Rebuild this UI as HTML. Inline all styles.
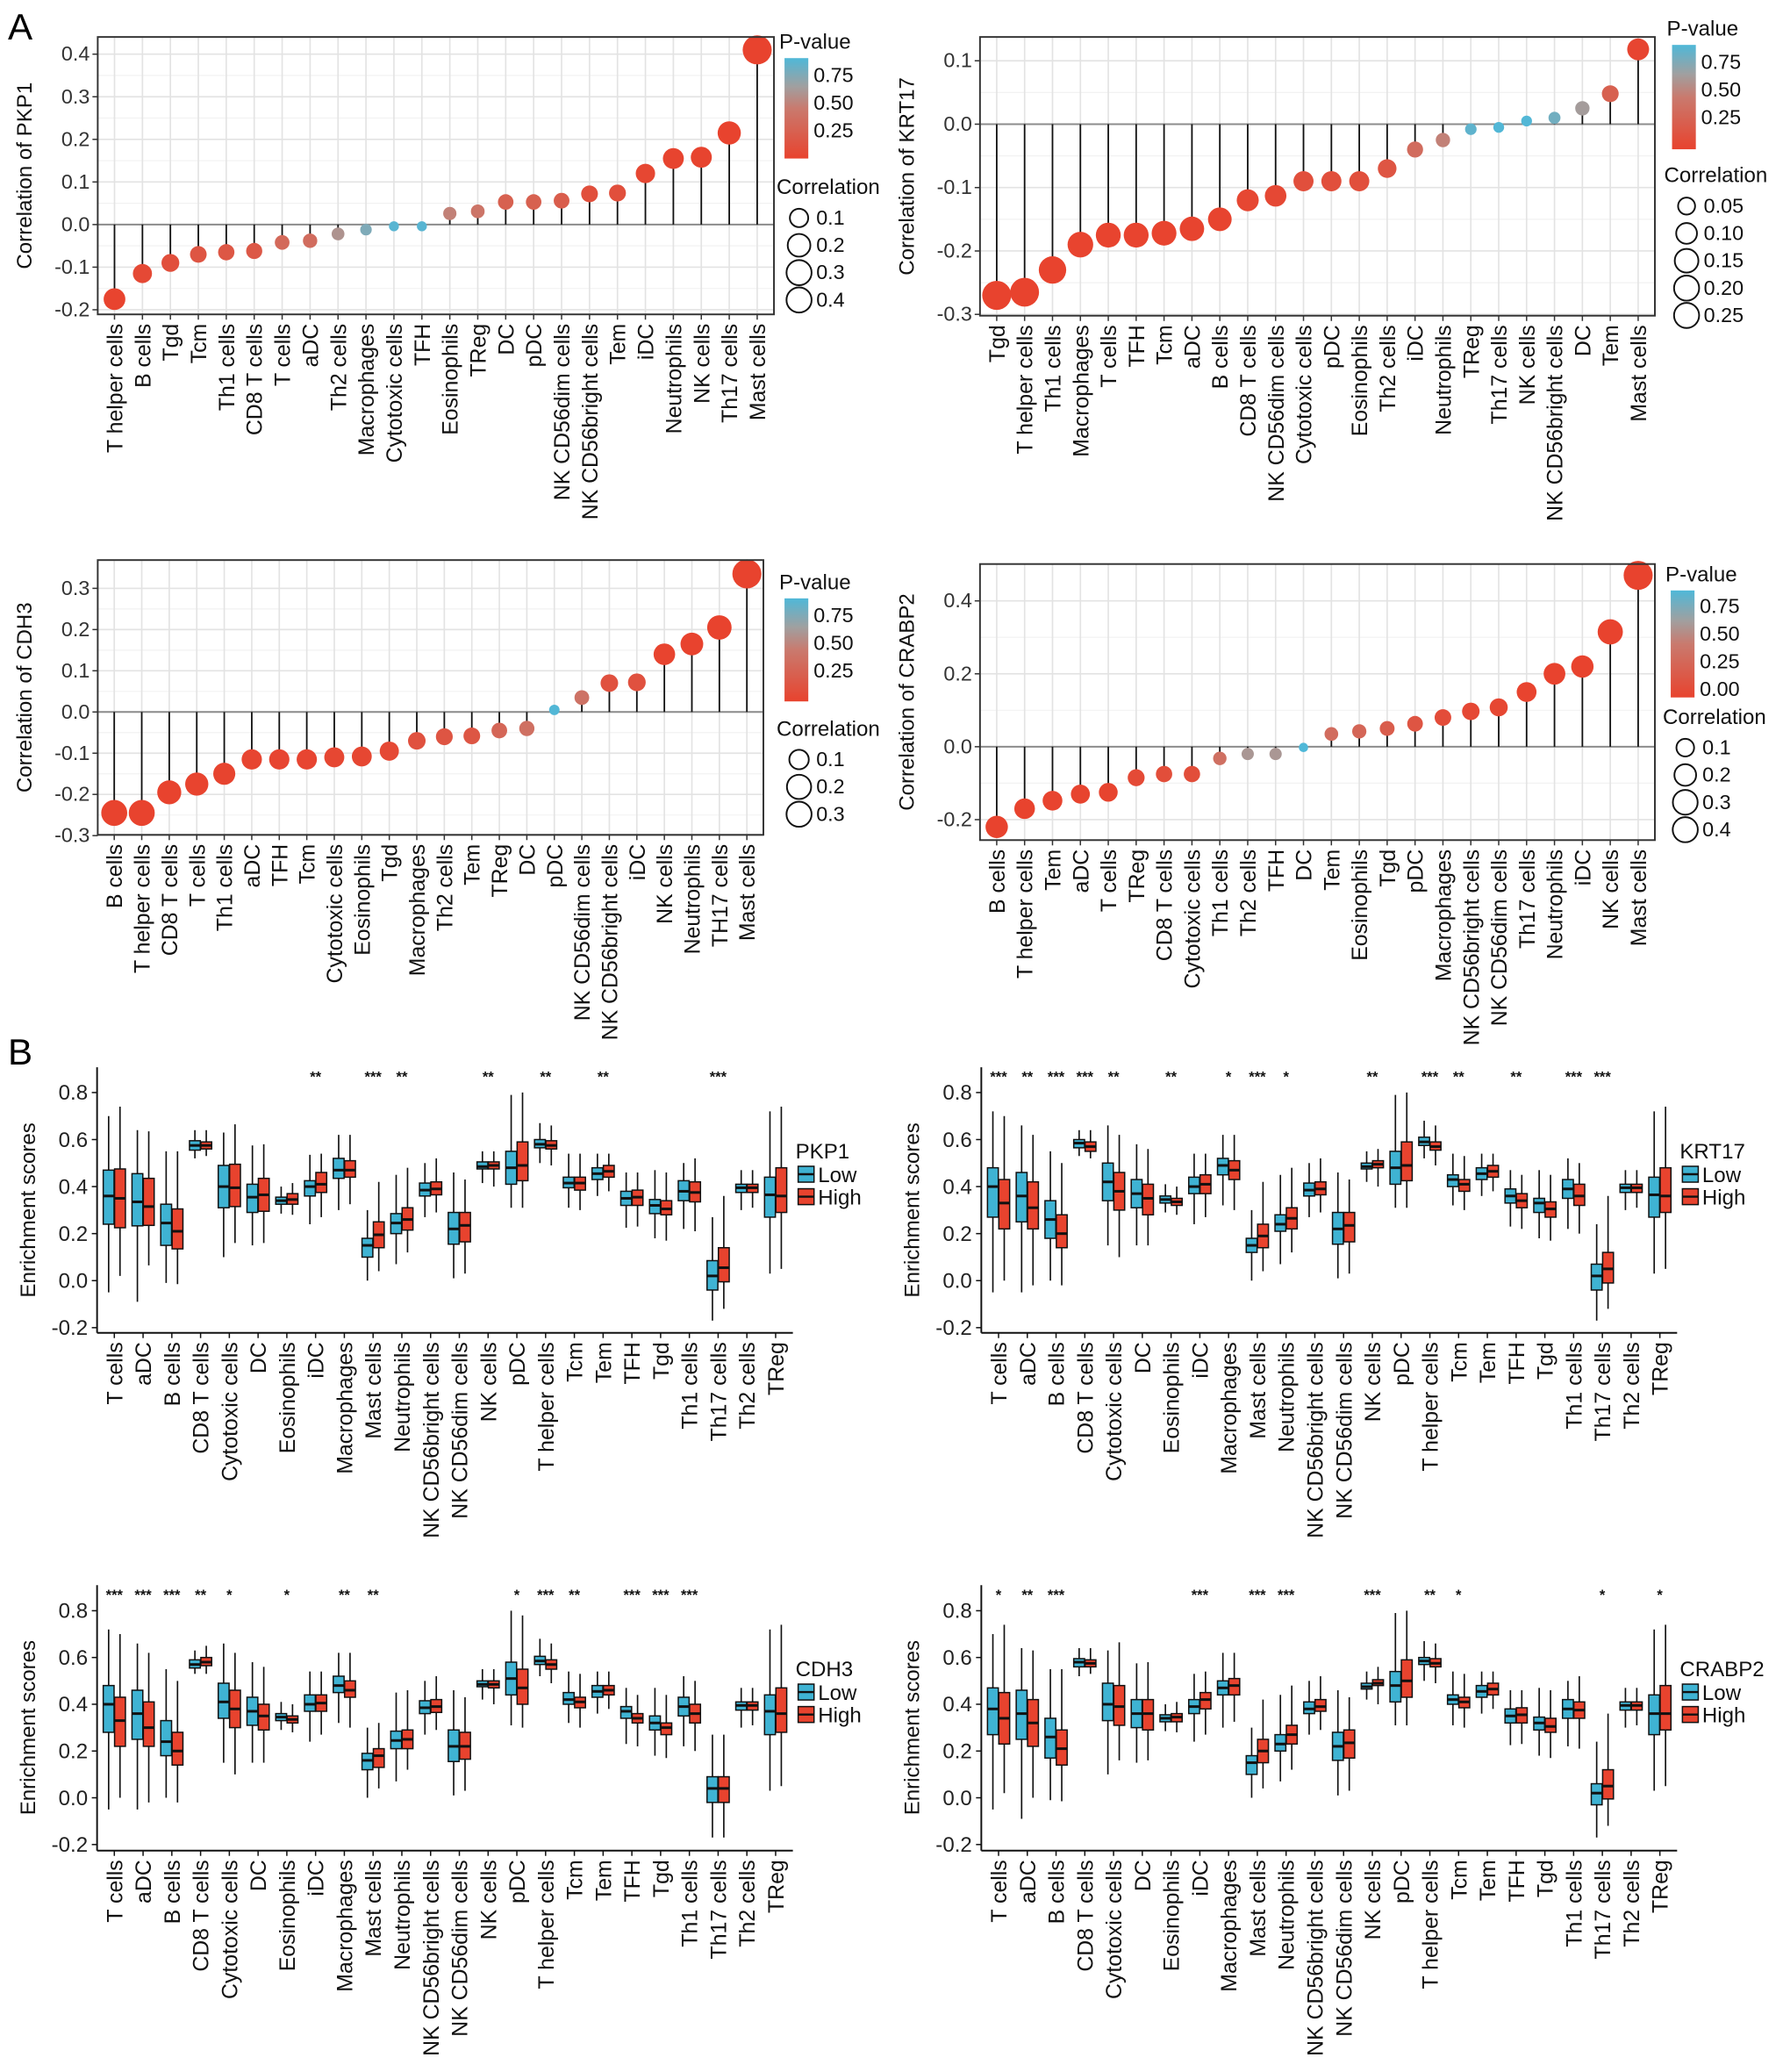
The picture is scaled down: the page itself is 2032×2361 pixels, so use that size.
<!DOCTYPE html>
<html><head><meta charset="utf-8"><title>Immune infiltration correlation figure</title>
<style>
html,body{margin:0;padding:0;background:#fff;}
svg{display:block;font-family:"Liberation Sans",Arial,sans-serif;}
</style></head>
<body>
<svg id="fig" width="2032" height="2361" viewBox="0 0 1350 1568.6" preserveAspectRatio="none" xmlns="http://www.w3.org/2000/svg">
<defs>
<linearGradient id="pgrad" x1="0" y1="1" x2="0" y2="0">
<stop offset="0" stop-color="#e8432e"/><stop offset="0.5" stop-color="#c97a6e"/><stop offset="0.72" stop-color="#a0a0a0"/><stop offset="1" stop-color="#4fb8d8"/>
</linearGradient>
</defs>
<text x="6" y="30" font-size="28">A</text>
<text x="6" y="806" font-size="28">B</text>
</svg>
<script>
// ---------- Panel A data ----------
const a1Cells=["T helper cells","B cells","Tgd","Tcm","Th1 cells","CD8 T cells","T cells","aDC","Th2 cells","Macrophages","Cytotoxic cells","TFH","Eosinophils","TReg","DC","pDC","NK CD56dim cells","NK CD56bright cells","Tem","iDC","Neutrophils","NK cells","Th17 cells","Mast cells"];
const a1Corr=[-0.175,-0.115,-0.09,-0.07,-0.065,-0.062,-0.042,-0.038,-0.022,-0.012,-0.004,-0.004,0.026,0.031,0.053,0.053,0.056,0.072,0.074,0.12,0.155,0.158,0.215,0.41];
const a1P=[0.005,0.05,0.1,0.15,0.17,0.18,0.32,0.35,0.6,0.78,0.9,0.9,0.5,0.42,0.25,0.25,0.22,0.1,0.1,0.03,0.01,0.01,0.001,0.0001];
const a1Ticks=[0.4,0.3,0.2,0.1,0.0,-0.1,-0.2];

const a2Cells=["Tgd","T helper cells","Th1 cells","Macrophages","T cells","TFH","Tcm","aDC","B cells","CD8 T cells","NK CD56dim cells","Cytotoxic cells","pDC","Eosinophils","Th2 cells","iDC","Neutrophils","TReg","Th17 cells","NK cells","NK CD56bright cells","DC","Tem","Mast cells"];
const a2Corr=[-0.27,-0.265,-0.23,-0.19,-0.175,-0.175,-0.172,-0.165,-0.15,-0.12,-0.113,-0.09,-0.09,-0.09,-0.07,-0.04,-0.025,-0.008,-0.005,0.005,0.01,0.025,0.048,0.118];
const a2P=[0.0001,0.0001,0.001,0.005,0.005,0.005,0.005,0.01,0.01,0.03,0.04,0.1,0.1,0.1,0.15,0.35,0.5,0.88,0.92,0.92,0.82,0.65,0.25,0.02];
const a2Ticks=[0.1,0.0,-0.1,-0.2,-0.3];

const a3Cells=["B cells","T helper cells","CD8 T cells","T cells","Th1 cells","aDC","TFH","Tcm","Cytotoxic cells","Eosinophils","Tgd","Macrophages","Th2 cells","Tem","TReg","DC","pDC","NK CD56dim cells","NK CD56bright cells","iDC","NK cells","Neutrophils","TH17 cells","Mast cells"];
const a3Corr=[-0.245,-0.245,-0.195,-0.175,-0.15,-0.115,-0.115,-0.115,-0.11,-0.108,-0.095,-0.07,-0.06,-0.058,-0.045,-0.04,0.005,0.035,0.07,0.072,0.14,0.165,0.205,0.335];
const a3P=[0.0001,0.0001,0.001,0.005,0.01,0.02,0.02,0.02,0.03,0.03,0.05,0.12,0.15,0.16,0.3,0.38,0.92,0.4,0.12,0.12,0.005,0.001,0.0001,0.0001];
const a3Ticks=[0.3,0.2,0.1,0.0,-0.1,-0.2,-0.3];

const a4Cells=["B cells","T helper cells","Tem","aDC","T cells","TReg","CD8 T cells","Cytotoxic cells","Th1 cells","Th2 cells","TFH","DC","Tem","Eosinophils","Tgd","pDC","Macrophages","NK CD56bright cells","NK CD56dim cells","Th17 cells","Neutrophils","iDC","NK cells","Mast cells"];
const a4Corr=[-0.22,-0.17,-0.148,-0.13,-0.125,-0.085,-0.075,-0.075,-0.032,-0.02,-0.02,-0.002,0.035,0.042,0.05,0.063,0.08,0.097,0.108,0.15,0.2,0.22,0.315,0.47];
const a4P=[0.0001,0.001,0.005,0.01,0.01,0.06,0.09,0.09,0.38,0.62,0.62,0.95,0.35,0.3,0.22,0.15,0.08,0.04,0.03,0.005,0.001,0.0005,0.0001,0.0001];
const a4Ticks=[0.4,0.2,0.0,-0.2];

// ---------- Panel B data ----------
const bCells=["T cells","aDC","B cells","CD8 T cells","Cytotoxic cells","DC","Eosinophils","iDC","Macrophages","Mast cells","Neutrophils","NK CD56bright cells","NK CD56dim cells","NK cells","pDC","T helper cells","Tcm","Tem","TFH","Tgd","Th1 cells","Th17 cells","Th2 cells","TReg"];
const bTicks=[0.8,0.6,0.4,0.2,0.0,-0.2];
// [min,q1,median,q3,max]
const b1Low=[[-0.05,0.24,0.36,0.47,0.70],[-0.09,0.233,0.335,0.455,0.64],[-0.01,0.15,0.245,0.325,0.55],[0.52,0.555,0.575,0.595,0.64],[0.10,0.31,0.40,0.49,0.63],[0.15,0.29,0.355,0.41,0.575],[0.285,0.325,0.34,0.355,0.40],[0.24,0.36,0.40,0.425,0.535],[0.30,0.435,0.47,0.52,0.62],[0.0,0.10,0.15,0.18,0.30],[0.07,0.20,0.245,0.285,0.45],[0.27,0.36,0.385,0.415,0.50],[0.01,0.155,0.22,0.29,0.46],[0.415,0.475,0.485,0.505,0.55],[0.31,0.41,0.48,0.55,0.79],[0.50,0.565,0.58,0.60,0.67],[0.31,0.395,0.415,0.44,0.54],[0.36,0.43,0.455,0.48,0.54],[0.225,0.32,0.35,0.38,0.46],[0.18,0.285,0.32,0.345,0.47],[0.22,0.34,0.38,0.425,0.50],[-0.17,-0.04,0.02,0.085,0.27],[0.30,0.375,0.395,0.41,0.47],[0.03,0.27,0.365,0.44,0.72]];
const b1High=[[0.02,0.225,0.35,0.475,0.74],[0.065,0.235,0.315,0.435,0.635],[-0.015,0.135,0.21,0.305,0.55],[0.53,0.56,0.575,0.59,0.64],[0.16,0.315,0.395,0.495,0.665],[0.16,0.295,0.365,0.435,0.58],[0.28,0.325,0.345,0.37,0.415],[0.27,0.375,0.41,0.46,0.54],[0.325,0.44,0.47,0.51,0.62],[0.04,0.14,0.195,0.25,0.42],[0.12,0.215,0.26,0.31,0.48],[0.29,0.365,0.39,0.42,0.52],[0.03,0.165,0.235,0.29,0.43],[0.40,0.475,0.49,0.505,0.55],[0.31,0.425,0.49,0.59,0.80],[0.49,0.56,0.575,0.595,0.66],[0.30,0.385,0.415,0.44,0.54],[0.38,0.44,0.465,0.49,0.54],[0.23,0.32,0.355,0.385,0.46],[0.17,0.28,0.305,0.34,0.46],[0.21,0.335,0.375,0.42,0.52],[-0.12,-0.005,0.055,0.14,0.36],[0.31,0.375,0.395,0.41,0.47],[0.05,0.29,0.36,0.48,0.74]];
const b1Stars=["","","","","","","","**","","***","**","","","**","","**","","**","","","","***","",""];

const b2Low=[[-0.05,0.27,0.40,0.48,0.72],[-0.05,0.25,0.36,0.46,0.66],[0.0,0.18,0.26,0.34,0.55],[0.53,0.565,0.585,0.60,0.64],[0.15,0.34,0.42,0.50,0.66],[0.15,0.31,0.37,0.43,0.58],[0.29,0.33,0.345,0.36,0.41],[0.24,0.37,0.40,0.44,0.54],[0.32,0.45,0.49,0.52,0.62],[0.0,0.12,0.15,0.18,0.30],[0.07,0.21,0.24,0.28,0.45],[0.27,0.36,0.385,0.415,0.50],[0.01,0.155,0.22,0.29,0.46],[0.42,0.475,0.485,0.50,0.55],[0.31,0.41,0.48,0.55,0.79],[0.52,0.575,0.59,0.61,0.68],[0.32,0.40,0.43,0.45,0.54],[0.36,0.43,0.455,0.48,0.54],[0.23,0.33,0.36,0.39,0.47],[0.18,0.29,0.33,0.35,0.47],[0.22,0.35,0.39,0.43,0.52],[-0.17,-0.04,0.02,0.07,0.24],[0.30,0.375,0.395,0.41,0.47],[0.03,0.27,0.365,0.44,0.72]];
const b2High=[[0.0,0.22,0.33,0.43,0.70],[-0.02,0.22,0.31,0.42,0.62],[-0.02,0.14,0.20,0.28,0.50],[0.52,0.55,0.57,0.59,0.64],[0.10,0.30,0.38,0.46,0.62],[0.15,0.28,0.35,0.41,0.56],[0.28,0.32,0.335,0.35,0.40],[0.27,0.37,0.41,0.45,0.54],[0.30,0.43,0.47,0.51,0.62],[0.04,0.14,0.19,0.24,0.42],[0.12,0.22,0.265,0.31,0.48],[0.29,0.365,0.39,0.42,0.52],[0.03,0.165,0.235,0.29,0.43],[0.40,0.48,0.495,0.51,0.56],[0.31,0.425,0.49,0.59,0.80],[0.49,0.555,0.57,0.59,0.66],[0.30,0.38,0.41,0.43,0.53],[0.38,0.44,0.465,0.49,0.54],[0.22,0.31,0.34,0.37,0.45],[0.17,0.27,0.305,0.335,0.45],[0.20,0.32,0.36,0.41,0.50],[-0.12,-0.01,0.05,0.12,0.36],[0.31,0.375,0.395,0.41,0.47],[0.05,0.29,0.36,0.48,0.74]];
const b2Stars=["***","**","***","***","**","","**","","*","***","*","","","**","","***","**","","**","","***","***","",""];

const b3Low=[[-0.05,0.28,0.40,0.48,0.72],[-0.05,0.25,0.36,0.46,0.66],[0.0,0.18,0.24,0.33,0.55],[0.53,0.555,0.57,0.59,0.63],[0.15,0.34,0.41,0.49,0.66],[0.15,0.31,0.37,0.43,0.58],[0.29,0.33,0.345,0.36,0.41],[0.24,0.37,0.40,0.44,0.54],[0.32,0.45,0.48,0.52,0.62],[0.0,0.12,0.16,0.19,0.30],[0.07,0.21,0.245,0.285,0.45],[0.27,0.36,0.385,0.415,0.50],[0.01,0.155,0.22,0.29,0.46],[0.42,0.475,0.485,0.50,0.55],[0.31,0.44,0.51,0.58,0.80],[0.52,0.57,0.585,0.605,0.68],[0.32,0.40,0.42,0.45,0.54],[0.36,0.43,0.455,0.48,0.54],[0.23,0.34,0.37,0.39,0.47],[0.18,0.29,0.32,0.35,0.47],[0.22,0.35,0.39,0.43,0.52],[-0.17,-0.02,0.04,0.09,0.27],[0.30,0.375,0.395,0.41,0.47],[0.03,0.27,0.37,0.44,0.72]];
const b3High=[[0.0,0.22,0.33,0.43,0.70],[-0.02,0.22,0.30,0.41,0.62],[-0.02,0.14,0.20,0.28,0.50],[0.53,0.565,0.58,0.60,0.65],[0.10,0.30,0.38,0.46,0.62],[0.15,0.29,0.35,0.40,0.56],[0.28,0.32,0.335,0.35,0.40],[0.27,0.37,0.405,0.44,0.54],[0.30,0.43,0.46,0.50,0.62],[0.04,0.13,0.18,0.21,0.32],[0.12,0.21,0.25,0.29,0.46],[0.29,0.365,0.39,0.42,0.52],[0.03,0.165,0.22,0.28,0.43],[0.40,0.47,0.485,0.50,0.55],[0.30,0.40,0.47,0.55,0.78],[0.49,0.55,0.57,0.59,0.66],[0.30,0.385,0.41,0.43,0.53],[0.38,0.44,0.46,0.48,0.54],[0.22,0.32,0.34,0.36,0.44],[0.17,0.27,0.30,0.32,0.44],[0.20,0.32,0.36,0.40,0.50],[-0.17,-0.02,0.04,0.09,0.27],[0.31,0.375,0.395,0.41,0.47],[0.05,0.28,0.36,0.47,0.74]];
const b3Stars=["***","***","***","**","*","","*","","**","**","","","","","*","***","**","","***","***","***","","",""];

const b4Low=[[-0.05,0.27,0.38,0.47,0.70],[-0.09,0.25,0.36,0.46,0.64],[-0.01,0.17,0.26,0.34,0.55],[0.52,0.56,0.58,0.595,0.64],[0.10,0.33,0.40,0.49,0.63],[0.15,0.30,0.36,0.42,0.575],[0.285,0.325,0.34,0.355,0.40],[0.24,0.36,0.39,0.42,0.53],[0.30,0.44,0.47,0.50,0.62],[0.0,0.10,0.15,0.18,0.30],[0.07,0.20,0.23,0.27,0.44],[0.27,0.36,0.38,0.41,0.50],[0.01,0.16,0.22,0.28,0.46],[0.42,0.465,0.475,0.49,0.54],[0.31,0.41,0.48,0.54,0.79],[0.50,0.57,0.585,0.60,0.67],[0.31,0.40,0.42,0.44,0.54],[0.36,0.43,0.455,0.48,0.54],[0.225,0.32,0.35,0.38,0.46],[0.18,0.29,0.32,0.345,0.47],[0.22,0.34,0.38,0.42,0.50],[-0.17,-0.03,0.02,0.06,0.24],[0.30,0.375,0.395,0.41,0.47],[0.03,0.27,0.36,0.44,0.72]];
const b4High=[[0.02,0.23,0.34,0.45,0.74],[0.0,0.22,0.32,0.42,0.63],[-0.015,0.14,0.21,0.29,0.55],[0.53,0.56,0.575,0.59,0.64],[0.16,0.31,0.39,0.48,0.665],[0.16,0.29,0.36,0.42,0.58],[0.28,0.325,0.345,0.36,0.41],[0.27,0.38,0.42,0.45,0.54],[0.325,0.44,0.48,0.51,0.62],[0.04,0.15,0.20,0.25,0.42],[0.12,0.23,0.27,0.31,0.48],[0.29,0.37,0.39,0.42,0.52],[0.03,0.17,0.235,0.29,0.43],[0.40,0.48,0.49,0.505,0.56],[0.31,0.43,0.50,0.59,0.80],[0.49,0.56,0.575,0.595,0.66],[0.30,0.385,0.41,0.43,0.53],[0.38,0.44,0.465,0.49,0.54],[0.23,0.32,0.355,0.385,0.46],[0.17,0.28,0.305,0.34,0.46],[0.21,0.34,0.375,0.41,0.52],[-0.12,-0.005,0.05,0.12,0.36],[0.31,0.375,0.395,0.41,0.47],[0.05,0.29,0.36,0.48,0.74]];
const b4Stars=["*","**","***","","","","","***","","***","***","","","***","","**","*","","","","","*","","*"];

const NS="http://www.w3.org/2000/svg";
const svg=document.getElementById("fig");
function mk(tag,attrs,parent){const e=document.createElementNS(NS,tag);for(const k in attrs)e.setAttribute(k,attrs[k]);(parent||svg).appendChild(e);return e;}
function pColor(p){
  const stops=[[0,[232,67,46]],[0.5,[201,122,110]],[0.72,[160,160,160]],[1,[79,184,216]]];
  const t=Math.min(1,p/0.93);
  for(let i=0;i<stops.length-1;i++){const a=stops[i],b=stops[i+1];if(t<=b[0]){const f=(t-a[0])/(b[0]-a[0]);return "rgb("+a[1].map((c,j)=>Math.round(c+(b[1][j]-c)*f)).join(",")+")";}}
  return "rgb(79,184,216)";
}
const XF=16.5, TF=15.5, LF=16;

function lollipop(cfg){
  const g=mk("g",{});
  
  
  const n=cfg.cells.length;
  const unit=(cfg.right-cfg.left)/(n-1+1.2);
  const xs=i=>cfg.left+(i+0.6)*unit;
  const ys=v=>cfg.y0-v*cfg.per;
  const maxAbs=Math.max(...cfg.corr.map(Math.abs));
  const rad=c=>3+8*Math.sqrt(Math.abs(c)/maxAbs);
  mk("rect",{x:cfg.left,y:cfg.top,width:cfg.right-cfg.left,height:cfg.bottom-cfg.top,fill:"#fff"},g);
  for(let k=0;k<cfg.ticks.length-1;k++){const v=(cfg.ticks[k]+cfg.ticks[k+1])/2;mk("line",{x1:cfg.left,x2:cfg.right,y1:ys(v),y2:ys(v),stroke:"#f2f2f2","stroke-width":0.8},g);}
  cfg.ticks.forEach(v=>{
    const l=mk("line",{x1:cfg.left,x2:cfg.right,y1:ys(v),y2:ys(v),stroke:"#e3e3e3","stroke-width":1.1},g);
    
    
    mk("line",{x1:cfg.left-4,x2:cfg.left,y1:ys(v),y2:ys(v),stroke:"#333","stroke-width":1},g);
    const t=mk("text",{x:cfg.left-6,y:ys(v)+5,"text-anchor":"end","font-size":TF,fill:"#333"},g);
    t.textContent=v.toFixed(1);
    
    
  });
  for(let i=0;i<n;i++){mk("line",{x1:xs(i),x2:xs(i),y1:cfg.top,y2:cfg.bottom,stroke:"#e3e3e3","stroke-width":1.1},g);}
  mk("line",{x1:cfg.left,x2:cfg.right,y1:ys(0),y2:ys(0),stroke:"#8c8c8c","stroke-width":1.3},g);
  for(let i=0;i<n;i++){
    const st=mk("line",{x1:xs(i),x2:xs(i),y1:ys(0),y2:ys(cfg.corr[i]),stroke:"#111","stroke-width":1.2},g);
    
    
  }
  for(let i=0;i<n;i++){
    const c=mk("circle",{cx:xs(i),cy:ys(cfg.corr[i]),r:rad(cfg.corr[i]),fill:pColor(cfg.p[i])},g);
    
    
    mk("line",{x1:xs(i),x2:xs(i),y1:cfg.bottom,y2:cfg.bottom+4,stroke:"#333","stroke-width":1},g);
    const t=mk("text",{transform:`translate(${xs(i)+6},${cfg.bottom+7}) rotate(-90)`,"text-anchor":"end","font-size":XF,fill:"#111"},g);
    t.textContent=cfg.cells[i];
    
    
  }
  const fr=mk("rect",{x:cfg.left,y:cfg.top,width:cfg.right-cfg.left,height:cfg.bottom-cfg.top,fill:"none",stroke:"#333","stroke-width":1.3},g);
  
  
  const yt=mk("text",{transform:`translate(${cfg.left-50},${(cfg.top+cfg.bottom)/2}) rotate(-90)`,"text-anchor":"middle","font-size":LF,fill:"#111"},g);
  yt.textContent=cfg.ylab;
  
  
  const L=cfg.leg;
  const pt=mk("text",{x:L.x,y:L.y,"font-size":LF,fill:"#111"},g);
  pt.textContent="P-value";
  
  
  const bar=mk("rect",{x:L.x+4,y:L.y+7,width:18,height:L.barH,fill:"url(#pgrad)"},g);
  
  
  L.pl.forEach((s,k)=>{const t=mk("text",{x:L.x+26,y:L.y+7+L.pOff[k]+5,"font-size":TF,fill:"#111"},g);t.textContent=s;
    
    });
  const ct=mk("text",{x:L.x-2,y:L.cy,"font-size":LF,fill:"#111"},g);
  ct.textContent="Correlation";
  
  
  L.sizes.forEach((s,k)=>{
    const cy=L.cy+18+k*20.7;
    const c=mk("circle",{cx:L.x+15,cy:cy,r:Math.min(9.5,rad(s)),fill:"none",stroke:"#111","stroke-width":1.3},g);
    
    
    const t=mk("text",{x:L.x+28,y:cy+5,"font-size":TF,fill:"#111"},g);t.textContent=L.sl[k];
    
    
  });
}

lollipop({name:"pkp1-correlation-chart",cells:a1Cells,corr:a1Corr,p:a1P,ticks:a1Ticks,left:74,right:586,top:28,bottom:238,y0:170,per:322.5,ylab:"Correlation of PKP1",
  leg:{x:590,y:37,barH:76,pl:["0.75","0.50","0.25"],pOff:[13,34,55],cy:147,sizes:[0.1,0.2,0.3,0.4],sl:["0.1","0.2","0.3","0.4"]}});
lollipop({name:"krt17-correlation-chart",cells:a2Cells,corr:a2Corr,p:a2P,ticks:a2Ticks,left:742,right:1253,top:28,bottom:239,y0:94,per:480,ylab:"Correlation of KRT17",
  leg:{x:1262,y:27,barH:79,pl:["0.75","0.50","0.25"],pOff:[13,34,55],cy:138,sizes:[0.05,0.10,0.15,0.20,0.25],sl:["0.05","0.10","0.15","0.20","0.25"]}});
lollipop({name:"cdh3-correlation-chart",cells:a3Cells,corr:a3Corr,p:a3P,ticks:a3Ticks,left:74,right:578,top:424,bottom:632,y0:539,per:312,ylab:"Correlation of CDH3",
  leg:{x:590,y:446,barH:78,pl:["0.75","0.50","0.25"],pOff:[13,34,55],cy:557,sizes:[0.1,0.2,0.3],sl:["0.1","0.2","0.3"]}});
lollipop({name:"crabp2-correlation-chart",cells:a4Cells,corr:a4Corr,p:a4P,ticks:a4Ticks,left:742,right:1253,top:427,bottom:636,y0:565.3,per:276,ylab:"Correlation of CRABP2",
  leg:{x:1261,y:440,barH:81,pl:["0.75","0.50","0.25","0.00"],pOff:[12,33,54,75],cy:548,sizes:[0.1,0.2,0.3,0.4],sl:["0.1","0.2","0.3","0.4"]}});

function boxplot(cfg){
  const g=mk("g",{});
  
  
  const n=bCells.length;
  const unit=21.77;
  const xs=i=>cfg.left+(i+0.6)*unit;
  const ys=v=>cfg.y0-v*cfg.per;
  const right=cfg.left+(n-1+1.2)*unit;
  mk("line",{x1:cfg.left,x2:cfg.left,y1:cfg.top,y2:cfg.bottom,stroke:"#111","stroke-width":1.3},g);
  const xa=mk("line",{x1:cfg.left,x2:right,y1:cfg.bottom,y2:cfg.bottom,stroke:"#111","stroke-width":1.3},g);
  
  
  bTicks.forEach(v=>{
    mk("line",{x1:cfg.left-4,x2:cfg.left,y1:ys(v),y2:ys(v),stroke:"#111","stroke-width":1},g);
    const t=mk("text",{x:cfg.left-7,y:ys(v)+5.5,"text-anchor":"end","font-size":TF+0.5,fill:"#222"},g);
    t.textContent=v.toFixed(1);
    
    
  });
  const hw=4.1;
  for(let i=0;i<n;i++){
    const c=xs(i);
    [[cfg.low[i],c-4.3,"#3fb3d3","low-box"],[cfg.high[i],c+4.3,"#e8432e","high-box"]].forEach(([d,cx,col,nm])=>{
      const w=mk("line",{x1:cx,x2:cx,y1:ys(d[0]),y2:ys(d[4]),stroke:"#111","stroke-width":1.1},g);
      
      
      const r=mk("rect",{x:cx-hw,y:ys(d[3]),width:hw*2,height:ys(d[1])-ys(d[3]),fill:col,stroke:"#111","stroke-width":1},g);
      
      
      const m=mk("line",{x1:cx-hw,x2:cx+hw,y1:ys(d[2]),y2:ys(d[2]),stroke:"#111","stroke-width":2},g);
      
      
    });
    mk("line",{x1:c,x2:c,y1:cfg.bottom,y2:cfg.bottom+4,stroke:"#111","stroke-width":1},g);
    const t=mk("text",{transform:`translate(${c+6},${cfg.bottom+7}) rotate(-90)`,"text-anchor":"end","font-size":XF,fill:"#111"},g);
    t.textContent=bCells[i];
    
    
    if(cfg.stars[i]){const s=mk("text",{x:c,y:cfg.starY,"text-anchor":"middle","font-size":11,fill:"#111","font-weight":"bold"},g);s.textContent=cfg.stars[i];
      
      }
  }
  const yt=mk("text",{transform:`translate(${cfg.left-47},${ys(0.3)}) rotate(-90)`,"text-anchor":"middle","font-size":LF,fill:"#111"},g);
  yt.textContent="Enrichment scores";
  
  
  const lx=right+2, ly=ys(0.52);
  const lt=mk("text",{x:lx,y:ly,"font-size":LF,fill:"#111"},g);
  lt.textContent=cfg.gene;
  
  
  [["#3fb3d3","Low"],["#e8432e","High"]].forEach(([col,lab],k)=>{
    const yy=ly+6+k*17;
    const r=mk("rect",{x:lx+2,y:yy,width:12,height:12,fill:col,stroke:"#111","stroke-width":1},g);
    
    
    mk("line",{x1:lx+2,x2:lx+14,y1:yy+6,y2:yy+6,stroke:"#111","stroke-width":1.6},g);
    const t=mk("text",{x:lx+17,y:yy+12,"font-size":LF,fill:"#111"},g);t.textContent=lab;
    
    
  });
}
boxplot({name:"pkp1-boxplot",gene:"PKP1",low:b1Low,high:b1High,stars:b1Stars,left:73.5,top:808,bottom:1009,y0:969.5,per:178,starY:819});
boxplot({name:"krt17-boxplot",gene:"KRT17",low:b2Low,high:b2High,stars:b2Stars,left:743,top:808,bottom:1009,y0:969.5,per:178,starY:819});
boxplot({name:"cdh3-boxplot",gene:"CDH3",low:b3Low,high:b3High,stars:b3Stars,left:73.5,top:1200,bottom:1401,y0:1361,per:177,starY:1211});
boxplot({name:"crabp2-boxplot",gene:"CRABP2",low:b4Low,high:b4High,stars:b4Stars,left:743,top:1200,bottom:1401,y0:1361,per:177,starY:1211});
</script>
</body></html>
